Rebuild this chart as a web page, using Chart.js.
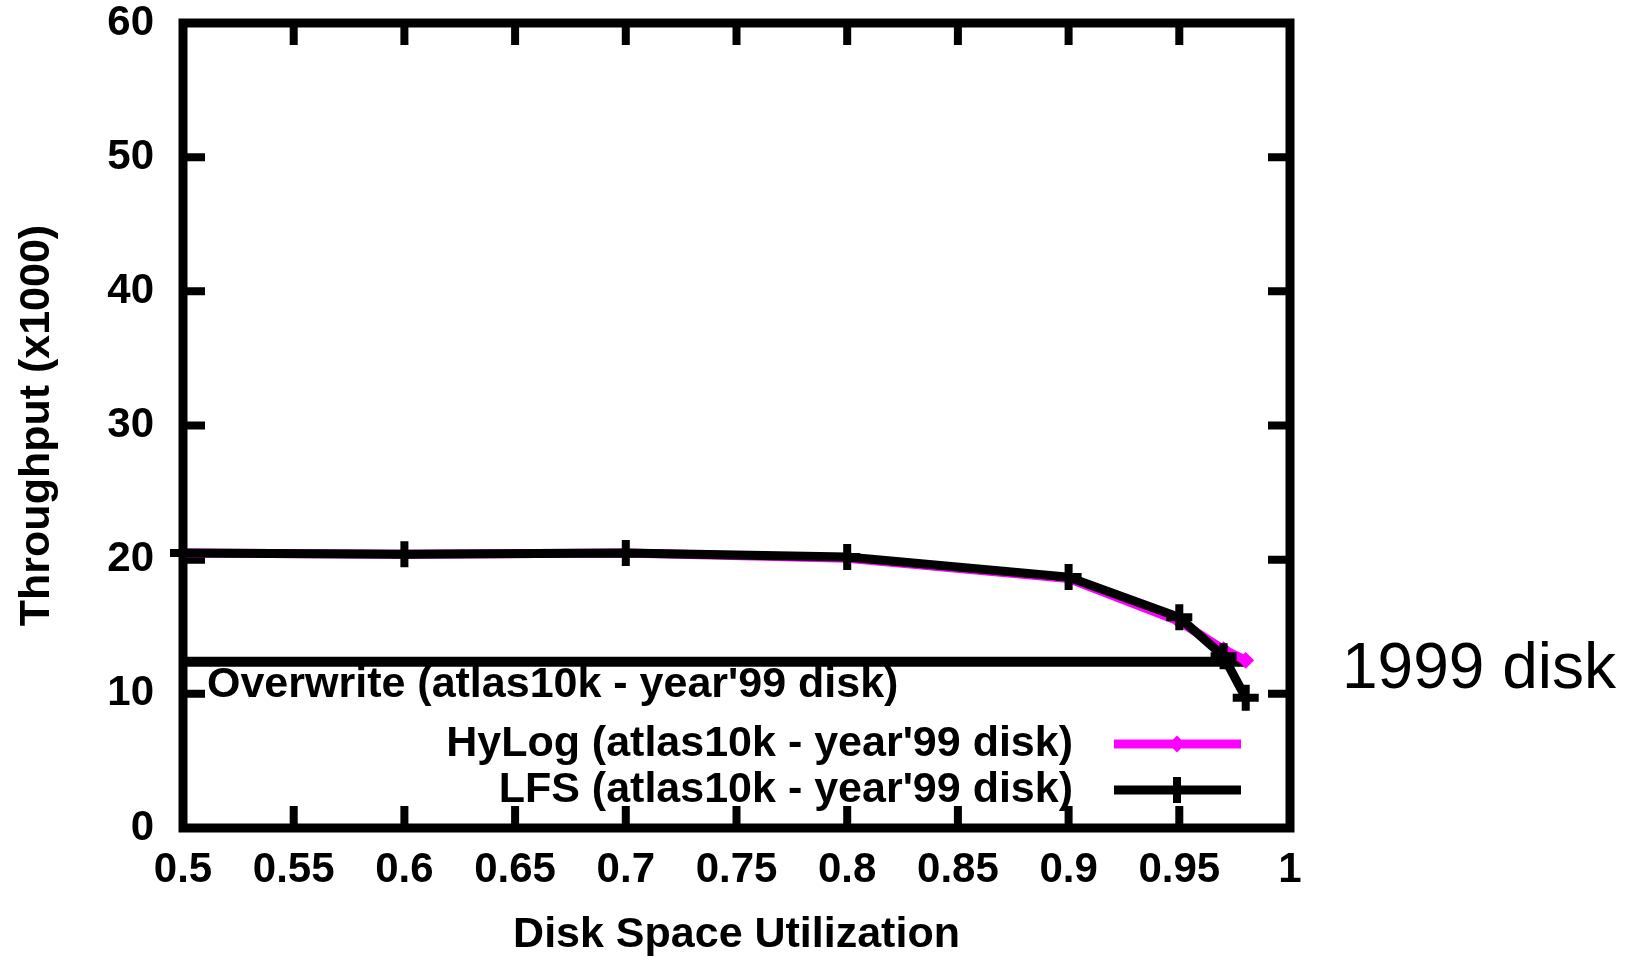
<!DOCTYPE html>
<html>
<head>
<meta charset="utf-8">
<script src="https://cdn.jsdelivr.net/npm/chart.js@4.4.1/dist/chart.umd.min.js"></script>
<style>
  body { margin: 0; background: #fff; }
  #wrap { width: 1634px; height: 960px; }
</style>
</head>
<body>
<div id="wrap"><canvas id="chart" width="1634" height="960"></canvas></div>
<script>
// disk space utilization vs throughput (x1000)
const utilization = [0.5, 0.6, 0.7, 0.8, 0.9, 0.95, 0.97, 0.98];
const hylogThroughput = [20.5, 20.4, 20.5, 20.1, 18.6, 15.4, 13.3, 12.5];
const lfsThroughput = [20.5, 20.4, 20.5, 20.2, 18.7, 15.7, 12.8, 9.7];
const overwriteRange = [0.5, 0.98];
const overwriteThroughput = 12.4;

const xTickValues = [0.5, 0.55, 0.6, 0.65, 0.7, 0.75, 0.8, 0.85, 0.9, 0.95, 1];
const yTickValues = [0, 10, 20, 30, 40, 50, 60];

const FONT = '"Liberation Sans", Arial, sans-serif';

const toPoints = (xs, ys) => xs.map((x, i) => ({ x, y: ys[i] }));

// gnuplot style box with inward ticks on every side
const frame = {
    id: 'frame',
    beforeDatasetsDraw(chart) {
        const { ctx, chartArea: a, scales: { x, y } } = chart;
        ctx.save();
        ctx.strokeStyle = '#000';
        ctx.lineWidth = 9;
        ctx.strokeRect(a.left, a.top, a.right - a.left, a.bottom - a.top);
        ctx.lineWidth = 8;
        ctx.beginPath();
        x.ticks.forEach(t => {
            const px = x.getPixelForValue(t.value);
            ctx.moveTo(px, a.bottom); ctx.lineTo(px, a.bottom - 22);
            ctx.moveTo(px, a.top); ctx.lineTo(px, a.top + 22);
        });
        y.ticks.forEach(t => {
            const py = y.getPixelForValue(t.value);
            ctx.moveTo(a.left, py); ctx.lineTo(a.left + 22, py);
            ctx.moveTo(a.right, py); ctx.lineTo(a.right - 22, py);
        });
        ctx.stroke();
        ctx.restore();
    }
};

// key entries, text on the left and line sample on the right
const keyBox = {
    id: 'keyBox',
    afterDatasetsDraw(chart) {
        const { ctx } = chart;
        const [hylog, lfs, overwrite] = chart.data.datasets;
        ctx.save();
        ctx.font = `bold 43px ${FONT}`;
        ctx.fillStyle = '#000';
        ctx.textBaseline = 'middle';

        // overwrite label sits under its line
        ctx.textAlign = 'left';
        ctx.fillText(overwrite.label, 207, 685);

        [hylog, lfs].forEach((ds, i) => {
            const cy = 744 + i * 46;
            ctx.textAlign = 'right';
            ctx.fillStyle = '#000';
            ctx.fillText(ds.label, 1073, cy);
            ctx.strokeStyle = ds.borderColor;
            ctx.lineWidth = ds.borderWidth;
            ctx.beginPath();
            ctx.moveTo(1114, cy);
            ctx.lineTo(1241, cy);
            ctx.stroke();
            ctx.fillStyle = ds.pointBackgroundColor;
            ctx.lineWidth = ds.pointBorderWidth;
            Chart.helpers.drawPoint(ctx, {
                pointStyle: ds.pointStyle,
                radius: ds.pointRadius,
                borderWidth: ds.pointBorderWidth,
                rotation: 0
            }, 1177, cy);
        });

        ctx.font = `64px ${FONT}`;
        ctx.textAlign = 'left';
        ctx.textBaseline = 'alphabetic';
        ctx.fillStyle = '#000';
        ctx.fillText('1999 disk', 1342, 688);
        ctx.restore();
    }
};

new Chart(document.getElementById('chart'), {
    type: 'line',
    data: {
        datasets: [
            {
                label: "HyLog (atlas10k - year'99 disk)",
                data: toPoints(utilization, hylogThroughput),
                borderColor: '#ff00ff',
                backgroundColor: '#ff00ff',
                pointBackgroundColor: '#ff00ff',
                borderWidth: 9,
                pointStyle: 'rectRot',
                pointRadius: 7,
                pointBorderWidth: 2,
                order: 2,
                clip: false
            },
            {
                label: "LFS (atlas10k - year'99 disk)",
                data: toPoints(utilization, lfsThroughput),
                borderColor: '#000',
                backgroundColor: '#000',
                pointBackgroundColor: '#000',
                borderWidth: 9,
                pointStyle: 'cross',
                pointRadius: 13,
                pointBorderWidth: 8,
                order: 1,
                clip: false
            },
            {
                label: "Overwrite (atlas10k - year'99 disk)",
                data: overwriteRange.map(x => ({ x, y: overwriteThroughput })),
                borderColor: '#000',
                borderWidth: 10,
                pointRadius: 0,
                order: 3,
                clip: false
            }
        ]
    },
    options: {
        responsive: false,
        animation: false,
        layout: { padding: { top: 23, right: 344, left: 0, bottom: 0 } },
        plugins: {
            legend: { display: false },
            tooltip: { enabled: false }
        },
        scales: {
            x: {
                type: 'linear',
                min: 0.5,
                max: 1,
                afterBuildTicks: s => { s.ticks = xTickValues.map(v => ({ value: v })); },
                afterFit: s => { s.height = 132; s.paddingLeft = 0; s.paddingRight = 0; },
                grid: { display: false, drawTicks: false },
                border: { display: false },
                ticks: {
                    padding: 21,
                    color: '#000',
                    font: { family: FONT, size: 42, weight: 'bold', lineHeight: 1 },
                    callback: v => String(+v.toFixed(2))
                },
                title: {
                    display: true,
                    text: 'Disk Space Utilization',
                    color: '#000',
                    padding: { top: 0, bottom: 1 },
                    font: { family: FONT, size: 43, weight: 'bold', lineHeight: 1.1 }
                }
            },
            y: {
                min: 0,
                max: 60,
                afterBuildTicks: s => { s.ticks = yTickValues.map(v => ({ value: v })); },
                afterFit: s => { s.width = 183; s.paddingTop = 0; s.paddingBottom = 0; },
                grid: { display: false, drawTicks: false },
                border: { display: false },
                ticks: {
                    padding: 29,
                    color: '#000',
                    font: { family: FONT, size: 42, weight: 'bold', lineHeight: 1 }
                },
                title: {
                    display: true,
                    text: 'Throughput (x1000)',
                    color: '#000',
                    padding: { top: 11, bottom: 0 },
                    font: { family: FONT, size: 43, weight: 'bold', lineHeight: 1.2 }
                }
            }
        }
    },
    plugins: [frame, keyBox]
});
</script>
</body>
</html>
